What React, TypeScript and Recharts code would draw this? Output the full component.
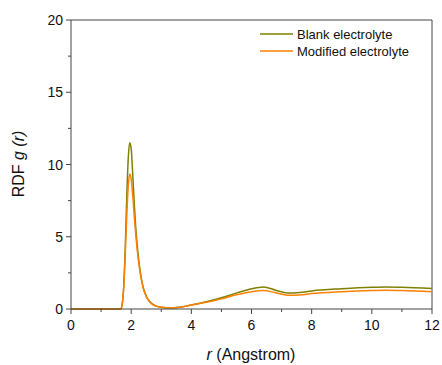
import { Line, LineChart, ReferenceLine, XAxis, YAxis } from "recharts";

// r in Angstrom, shared by both series
const rValues = [
  0, 1.65, 1.7, 1.75, 1.8, 1.85, 1.9, 1.95, 2.0, 2.05, 2.1, 2.15, 2.2, 2.3, 2.4, 2.5, 2.6, 2.7, 2.8, 3.0,
  3.3, 3.6, 4.0, 4.5, 5.0, 5.5, 6.0, 6.4, 6.8, 7.2, 7.6, 8.0, 9.0, 10.0, 10.5, 11.0, 12.0,
];
const blankRdf = [
  0, 0, 0.3, 1.5, 4, 7.5, 10.3, 11.5, 11.1, 9.4, 7.4, 5.7, 4.4, 2.6, 1.5, 0.9, 0.55, 0.35, 0.23, 0.12,
  0.08, 0.12, 0.28, 0.5, 0.78, 1.1, 1.4, 1.53, 1.3, 1.1, 1.14, 1.25, 1.4, 1.5, 1.52, 1.5, 1.42,
];
const modifiedRdf = [
  0, 0, 0.3, 1.4, 3.6, 6.3, 8.4, 9.35, 9.0, 7.9, 6.5, 5.2, 4.1, 2.5, 1.45, 0.87, 0.53, 0.34, 0.22, 0.12,
  0.08, 0.12, 0.27, 0.46, 0.7, 0.98, 1.2, 1.28, 1.12, 0.95, 0.97, 1.07, 1.2, 1.28, 1.3, 1.28, 1.19,
];

const xTicks = [0, 1, 2, 3, 4, 5, 6, 7, 8, 9, 10, 11, 12];
const yTicks = [0, 2.5, 5, 7.5, 10, 12.5, 15, 17.5, 20];

const seriesNames = ["Blank electrolyte", "Modified electrolyte"];
const blankColor = "#808000";
const modifiedColor = "#ff7f00";
const axisColor = "#444";
const font = "'Liberation Sans', Arial, sans-serif";

const data = rValues.map((r, i) => ({ r, blank: blankRdf[i], modified: modifiedRdf[i] }));

function XTick({ x, y, payload }: any) {
  const major = payload.value % 2 === 0;
  return (
    <g>
      <line x1={x} x2={x} y1={y} y2={y + (major ? 5 : 3)} stroke={axisColor} />
      {major && (
        <text x={x} y={y + 21} textAnchor="middle" fontSize={14} fontFamily={font} fill="#111">
          {payload.value}
        </text>
      )}
    </g>
  );
}

function YTick({ x, y, payload }: any) {
  const major = payload.value % 5 === 0;
  return (
    <g>
      <line x1={x - (major ? 5 : 3)} x2={x} y1={y} y2={y} stroke={axisColor} />
      {major && (
        <text x={x - 8} y={y + 5} textAnchor="end" fontSize={14} fontFamily={font} fill="#111">
          {payload.value}
        </text>
      )}
    </g>
  );
}

function Legend() {
  const colors = [blankColor, modifiedColor];
  return (
    <g>
      {seriesNames.map((name, i) => (
        <g key={name}>
          <line x1={260} x2={293} y1={34 + i * 17} y2={34 + i * 17} stroke={colors[i]} strokeWidth={1.5} />
          <text x={297} y={38.5 + i * 17} fontSize={13} fontFamily={font} fill="#111">
            {name}
          </text>
        </g>
      ))}
    </g>
  );
}

export default function App() {
  return (
    <div style={{ position: "absolute", left: 0, top: 0, background: "#fff" }}>
      <LineChart width={442} height={365} data={data} margin={{ top: 20, right: 10, left: 0, bottom: 0 }}>
        <XAxis
          dataKey="r"
          type="number"
          domain={[0, 12]}
          ticks={xTicks}
          interval={0}
          tickSize={0}
          tickMargin={0}
          tickLine={false}
          tick={<XTick />}
          stroke={axisColor}
          height={56}
          label={{
            position: "insideBottom",
            content: () => (
              <text x={251} y={360} textAnchor="middle" fontSize={16} fontFamily={font} fill="#111">
                <tspan fontStyle="italic">r</tspan> (Angstrom)
              </text>
            ),
          }}
        />
        <YAxis
          type="number"
          domain={[0, 20]}
          ticks={yTicks}
          interval={0}
          tickSize={0}
          tickMargin={0}
          tickLine={false}
          tick={<YTick />}
          stroke={axisColor}
          width={71}
          label={{
            position: "insideLeft",
            content: () => (
              <text
                x={24}
                y={164}
                transform="rotate(-90 24 164)"
                textAnchor="middle"
                fontSize={16}
                fontFamily={font}
                fill="#111"
              >
                RDF <tspan fontStyle="italic">g (r)</tspan>
              </text>
            ),
          }}
        />
        {/* frame: top and right edges */}
        <ReferenceLine y={20} stroke={axisColor} />
        <ReferenceLine x={12} stroke={axisColor} />
        <Line type="monotone" dataKey="blank" stroke={blankColor} strokeWidth={1.5} dot={false} isAnimationActive={false} />
        <Line type="monotone" dataKey="modified" stroke={modifiedColor} strokeWidth={1.5} dot={false} isAnimationActive={false} />
        <Legend />
      </LineChart>
    </div>
  );
}
